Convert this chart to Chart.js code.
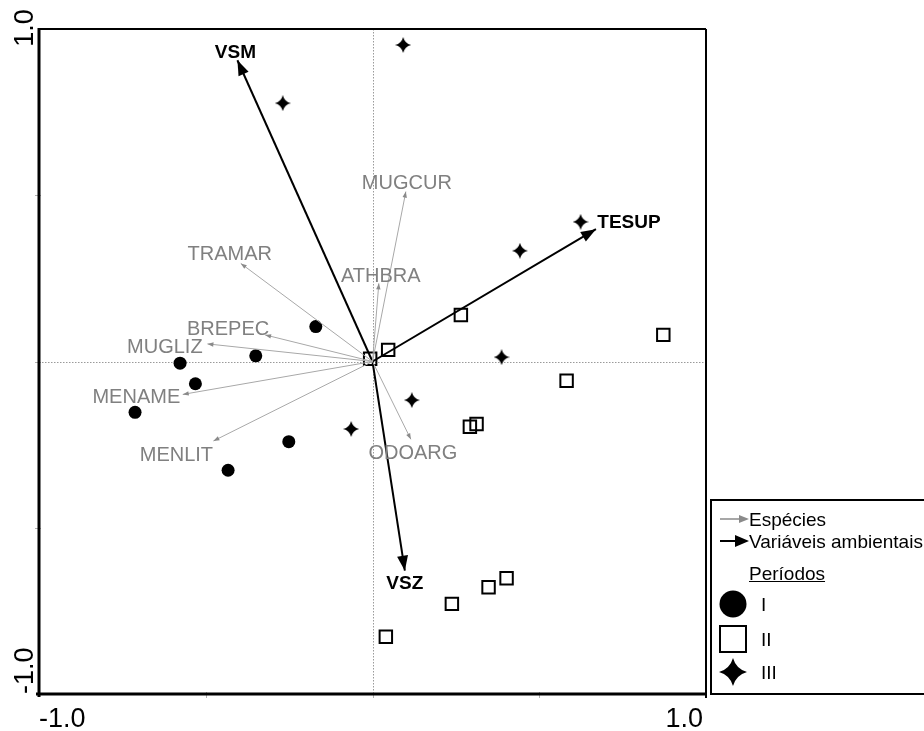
<!DOCTYPE html>
<html>
<head>
<meta charset="utf-8">
<script src="https://cdn.jsdelivr.net/npm/chart.js@4.4.1/dist/chart.umd.min.js"></script>
<style>
  html, body { margin: 0; padding: 0; background: #fff; }
  #wrap { width: 924px; height: 731px; }
</style>
</head>
<body>
<div id="wrap"><canvas id="cca" width="924" height="731"></canvas></div>
<script>
// ---- Sample scores on CCA axes 1 (x) and 2 (y), by period ----
const periodIX   = [-0.170, -0.350, -0.577, -0.531, -0.712, -0.251, -0.433];
const periodIY   = [ 0.105,  0.017, -0.005, -0.067, -0.153, -0.241, -0.327];
const periodIIX  = [-0.007, 0.047, 0.265, 0.872, 0.582, 0.292, 0.312, 0.402, 0.348, 0.238, 0.040];
const periodIIY  = [ 0.008, 0.035, 0.140, 0.080, -0.058, -0.196, -0.188, -0.652, -0.679, -0.729, -0.828];
const periodIIIX = [0.092, -0.269, 0.624, 0.442, 0.387, 0.118, -0.064];
const periodIIIY = [0.952,  0.777, 0.420, 0.333, 0.013, -0.116, -0.203];

// ---- Species vectors ----
const speciesNames = ['MUGCUR', 'TRAMAR', 'ATHBRA', 'BREPEC', 'MUGLIZ', 'MENAME', 'MENLIT', 'ODOARG'];
const speciesX     = [0.100, -0.395, 0.019, -0.322, -0.495, -0.569, -0.477, 0.115];
const speciesY     = [0.511,  0.295, 0.235,  0.080,  0.053, -0.099, -0.239, -0.234];

// ---- Environmental variable vectors ----
const envNames = ['VSM', 'TESUP', 'VSZ'];
const envX     = [-0.405, 0.670, 0.097];
const envY     = [ 0.906, 0.398, -0.629];

// ---- Axis end labels ----
const axisMin = -1, axisMax = 1;
const axisEndLabels = ['-1.0', '1.0'];

// ---- Legend texts ----
const legendVectorLabels = ['Espécies', 'Variáveis ambientais'];
const legendGroupTitle = 'Períodos';
const periodLabels = ['I', 'II', 'III'];

// Pixel offsets of each vector label centre from its arrow tip
const speciesLabelOffset = {
  MUGCUR: [1, -10], TRAMAR: [-11, -11], ATHBRA: [2, -9], BREPEC: [-37, -7.5],
  MUGLIZ: [-42.6, 1.5], MENAME: [-46.4, 1.2], MENLIT: [-37, 12.5], ODOARG: [2, 12.5]
};
const envLabelOffset = { VSM: [-2, -9], TESUP: [33, -7.5], VSZ: [0, 12] };

const FONT = '"Liberation Sans", Arial, Helvetica, sans-serif';
const GREY_TEXT = '#808080';
const GREY_LINE = '#a8a8a8';

function pairs(xs, ys) { return xs.map((x, i) => ({ x: x, y: ys[i] })); }

// Four-pointed star with concave sides, used as a point style
function makeStar(size, bulge) {
  const c = document.createElement('canvas');
  c.width = size; c.height = size;
  const g = c.getContext('2d');
  const R = size / 2, k = bulge * R;
  g.translate(R, R);
  g.beginPath();
  g.moveTo(0, -R);
  g.quadraticCurveTo(k, -k, R, 0);
  g.quadraticCurveTo(k, k, 0, R);
  g.quadraticCurveTo(-k, k, -R, 0);
  g.quadraticCurveTo(-k, -k, 0, -R);
  g.closePath();
  g.fillStyle = '#000';
  g.fill();
  return c;
}
const starSmall = makeStar(16, 0.2);
const starLegend = makeStar(28, 0.22);

function vectorDataset(name, x, y, kind) {
  return {
    label: name,
    vectorKind: kind,
    data: [{ x: 0, y: 0 }, { x: x, y: y }],
    showLine: true,
    borderColor: kind === 'env' ? '#000' : GREY_LINE,
    borderWidth: kind === 'env' ? 2 : 1,
    pointRadius: 0,
    fill: false
  };
}

const datasets = [];
speciesNames.forEach((n, i) => datasets.push(vectorDataset(n, speciesX[i], speciesY[i], 'species')));
envNames.forEach((n, i) => datasets.push(vectorDataset(n, envX[i], envY[i], 'env')));
datasets.push({
  label: periodLabels[0], data: pairs(periodIX, periodIY),
  pointStyle: 'circle', pointRadius: 6.5, backgroundColor: '#000', borderColor: '#000', borderWidth: 0
});
datasets.push({
  label: periodLabels[1], data: pairs(periodIIX, periodIIY),
  pointStyle: 'rect', pointRadius: 8.8, backgroundColor: 'rgba(0,0,0,0)', borderColor: '#000', borderWidth: 2
});
datasets.push({
  label: periodLabels[2], data: pairs(periodIIIX, periodIIIY),
  pointStyle: starSmall, pointRadius: 8, backgroundColor: '#000', borderColor: '#000', borderWidth: 0
});

function drawArrowHead(ctx, x0, y0, x1, y1, len, half, color) {
  const a = Math.atan2(y1 - y0, x1 - x0);
  ctx.save();
  ctx.translate(x1, y1);
  ctx.rotate(a);
  ctx.beginPath();
  ctx.moveTo(0, 0);
  ctx.lineTo(-len, half);
  ctx.lineTo(-len, -half);
  ctx.closePath();
  ctx.fillStyle = color;
  ctx.fill();
  ctx.restore();
}

function centredText(ctx, text, cx, cy, size, weight, color) {
  ctx.font = weight + ' ' + size + 'px ' + FONT;
  ctx.fillStyle = color;
  ctx.textAlign = 'center';
  ctx.textBaseline = 'alphabetic';
  ctx.fillText(text, cx, cy + 0.358 * size);
}

const ordinationPlugin = {
  id: 'ordination',
  beforeDatasetsDraw(chart) {
    const { ctx, chartArea: a, scales: { x, y } } = chart;
    ctx.save();
    // dotted zero lines
    ctx.strokeStyle = '#9a9a9a';
    ctx.lineWidth = 1;
    ctx.setLineDash([1.5, 1.5]);
    const x0 = Math.round(x.getPixelForValue(0)) + 0.5;
    const y0 = Math.round(y.getPixelForValue(0)) + 0.5;
    ctx.beginPath();
    ctx.moveTo(x0, a.top); ctx.lineTo(x0, a.bottom);
    ctx.moveTo(a.left, y0); ctx.lineTo(a.right, y0);
    ctx.stroke();
    ctx.restore();
  },
  afterDatasetsDraw(chart) {
    const { ctx, chartArea: a, scales: { x, y } } = chart;
    ctx.save();
    // arrowheads and vector labels
    chart.data.datasets.forEach((ds, i) => {
      if (!ds.vectorKind) return;
      const pts = chart.getDatasetMeta(i).data;
      const p0 = pts[0], p1 = pts[1];
      if (ds.vectorKind === 'env') {
        drawArrowHead(ctx, p0.x, p0.y, p1.x, p1.y, 15, 5.5, '#000');
        const o = envLabelOffset[ds.label];
        centredText(ctx, ds.label, p1.x + o[0], p1.y + o[1], 19, 'bold', '#000');
      } else {
        drawArrowHead(ctx, p0.x, p0.y, p1.x, p1.y, 6, 2.2, '#8a8a8a');
        const o = speciesLabelOffset[ds.label];
        centredText(ctx, ds.label, p1.x + o[0], p1.y + o[1], 20, 'normal', GREY_TEXT);
      }
    });

    // tick marks
    ctx.strokeStyle = '#b0b0b0';
    ctx.lineWidth = 1;
    [-0.5, 0, 0.5].forEach(v => {
      const px = Math.round(x.getPixelForValue(v)) + 0.5;
      ctx.beginPath(); ctx.moveTo(px, a.bottom - 2); ctx.lineTo(px, a.bottom + 4); ctx.stroke();
      const py = Math.round(y.getPixelForValue(v)) + 0.5;
      ctx.beginPath(); ctx.moveTo(a.left - 4, py); ctx.lineTo(a.left + 2, py); ctx.stroke();
    });

    // frame: heavier left and bottom axes
    ctx.strokeStyle = '#000';
    ctx.lineWidth = 2;
    ctx.beginPath();
    ctx.moveTo(a.left, a.top); ctx.lineTo(a.right, a.top);
    ctx.moveTo(a.right, a.top); ctx.lineTo(a.right, a.bottom + 4);
    ctx.stroke();
    ctx.lineWidth = 3;
    ctx.beginPath();
    ctx.moveTo(a.left, a.top - 1); ctx.lineTo(a.left, a.bottom + 3);
    ctx.moveTo(a.left - 3, a.bottom); ctx.lineTo(a.right + 1, a.bottom);
    ctx.stroke();

    // axis end labels
    ctx.fillStyle = '#000';
    ctx.font = '27px ' + FONT;
    ctx.textBaseline = 'alphabetic';
    ctx.textAlign = 'left';
    ctx.fillText(axisEndLabels[0], x.getPixelForValue(axisMin), 727);
    ctx.textAlign = 'right';
    ctx.fillText(axisEndLabels[1], x.getPixelForValue(axisMax) - 3, 727);

    ctx.save();
    ctx.translate(33, y.getPixelForValue(axisMin));
    ctx.rotate(-Math.PI / 2);
    ctx.textAlign = 'left';
    ctx.fillText(axisEndLabels[0], 0, 0);
    ctx.restore();
    ctx.save();
    ctx.translate(33, y.getPixelForValue(axisMax) - 1);
    ctx.rotate(-Math.PI / 2);
    ctx.textAlign = 'center';
    ctx.fillText(axisEndLabels[1], 0, 0);
    ctx.restore();

    // legend box
    const L = a.right + 4, T = 500, B = a.bottom;
    ctx.strokeStyle = '#000';
    ctx.lineWidth = 2;
    ctx.strokeRect(L + 1, T, chart.width + 10 - L, B - T);

    const tx = L + 39;
    ctx.font = '19px ' + FONT;
    ctx.textAlign = 'left';
    ctx.fillStyle = '#000';
    // species vector key
    ctx.strokeStyle = '#8a8a8a';
    ctx.lineWidth = 1.5;
    ctx.beginPath(); ctx.moveTo(L + 10, 519); ctx.lineTo(L + 30, 519); ctx.stroke();
    drawArrowHead(ctx, L + 10, 519, L + 39, 519, 10, 4, '#8a8a8a');
    ctx.fillStyle = '#000';
    ctx.fillText(legendVectorLabels[0], tx, 519 + 0.358 * 19);
    // environmental vector key
    ctx.strokeStyle = '#000';
    ctx.lineWidth = 2;
    ctx.beginPath(); ctx.moveTo(L + 10, 541); ctx.lineTo(L + 28, 541); ctx.stroke();
    drawArrowHead(ctx, L + 10, 541, L + 39, 541, 14, 6, '#000');
    ctx.fillStyle = '#000';
    ctx.fillText(legendVectorLabels[1], tx, 541 + 0.358 * 19);
    // group title, underlined
    ctx.fillText(legendGroupTitle, tx, 573 + 0.358 * 19);
    const tw = ctx.measureText(legendGroupTitle).width;
    ctx.lineWidth = 1;
    ctx.beginPath(); ctx.moveTo(tx, 581.5); ctx.lineTo(tx + tw, 581.5); ctx.stroke();

    // period symbols
    const sx = L + 23, rows = [604, 639, 672];
    ctx.fillStyle = '#000';
    ctx.beginPath(); ctx.arc(sx, rows[0], 13.5, 0, Math.PI * 2); ctx.fill();
    ctx.lineWidth = 2;
    ctx.strokeRect(sx - 13, rows[1] - 13, 26, 26);
    ctx.drawImage(starLegend, sx - starLegend.width / 2, rows[2] - starLegend.height / 2);
    ctx.fillStyle = '#000';
    periodLabels.forEach((t, i) => ctx.fillText(t, L + 51, rows[i] + 0.358 * 19));

    ctx.restore();
  }
};

new Chart(document.getElementById('cca'), {
  type: 'scatter',
  data: { datasets: datasets },
  options: {
    responsive: false,
    animation: false,
    devicePixelRatio: 1,
    events: [],
    layout: { padding: { left: 39, top: 29, right: 218, bottom: 37 } },
    scales: {
      x: { type: 'linear', min: axisMin, max: axisMax, display: false },
      y: { type: 'linear', min: axisMin, max: axisMax, display: false }
    },
    plugins: { legend: { display: false }, tooltip: { enabled: false } }
  },
  plugins: [ordinationPlugin]
});
</script>
</body>
</html>
